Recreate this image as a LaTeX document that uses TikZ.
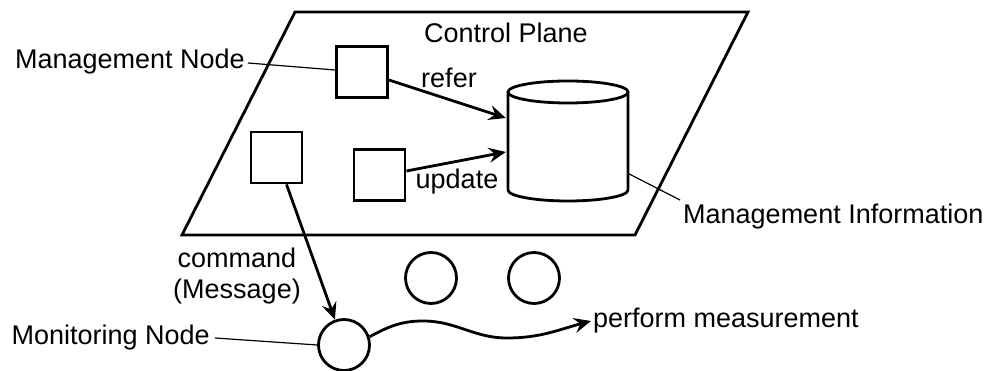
\documentclass[tikz,border=0pt]{standalone}
\usepackage{fontspec}
\setmainfont{Liberation Sans}
\usetikzlibrary{arrows.meta,calc}
\begin{document}
\begin{tikzpicture}[x=1pt,y=1pt,
  thick line/.style={line width=2.8pt},
  leader/.style={line width=1.2pt},
  arr/.style={thick line,-{Stealth[length=17pt,width=15pt,inset=6pt]}},
  nodebox/.style={draw,thick line,minimum size=51pt,inner sep=0pt},
  ring/.style={draw,thick line,circle,minimum size=51pt,inner sep=0pt},
  lbl/.style={inner sep=0pt,font=\fontsize{27}{32}\selectfont}]
\useasboundingbox (0,0) rectangle (986,371);

% control plane
\draw[thick line,line join=miter] (182,136) -- (635,136) -- (748,359) -- (295,359) -- cycle;
\node[lbl] (cp) at (506,338) {Control Plane};

% management nodes
\node[nodebox] (mn) at (362,299) {};
\node[nodebox] (lb) at (276.5,213.5) {};
\node[nodebox] (ub) at (379.5,196) {};

% management information store (cylinder)
\node[minimum width=120pt,minimum height=120pt,inner sep=0pt] (mi) at (568,230) {};
\draw[thick line,fill=white] (508,279) -- (508,181) arc[start angle=180,end angle=360,x radius=60,y radius=11]
  -- (628,279);
\draw[thick line] (568,279) ellipse[x radius=60,y radius=11];

% labels
\node[lbl] (refer) at (449,293) {refer};
\node[lbl] (upd) at (457,189) {update};
\node[lbl,anchor=east] (mnl) at (245,309) {Management Node};
\node[lbl,anchor=west] (mit) at (683,154) {Management Information};

% arrows into the store
\draw[arr] ($(mn.east)+(0,-8)$) -- ($(mi.west)+(-2,23)$);
\draw[arr] ($(ub.east)+(0,4)$) -- ($(mi.west)+(-2,-11)$);

% leaders
\draw[leader] ($(mnl.east)+(3,-1)$) -- ($(mn.west)+(0,2)$);
\draw[leader] ($(mi.east)+(1,-33)$) -- ($(mit.west)+(-3,17)$);

% monitoring nodes
\node[ring] (mon) at (344,26) {};
\node[ring] (c1) at (431,93) {};
\node[ring] (c2) at (534,93) {};

\node[lbl] (cmd) at (237,113) {command};
\node[lbl] (msg) at (237,79) {(Message)};
\draw[arr] ($(lb.south)+(10,0)$) -- (mon);

\node[lbl,anchor=east] (monl) at (210,33) {Monitoring Node};
\draw[leader] ($(monl.east)+(5,0)$) -- (mon.west);

\node[lbl,anchor=west] (pm) at (593,50) {perform measurement};
\draw[arr] (mon.18) to[out=28,in=180] (423,50) to[out=0,in=180] (507,33)
  to[out=0,in=195] ($(pm.west)+(-2,0)$);
\end{tikzpicture}
\end{document}
